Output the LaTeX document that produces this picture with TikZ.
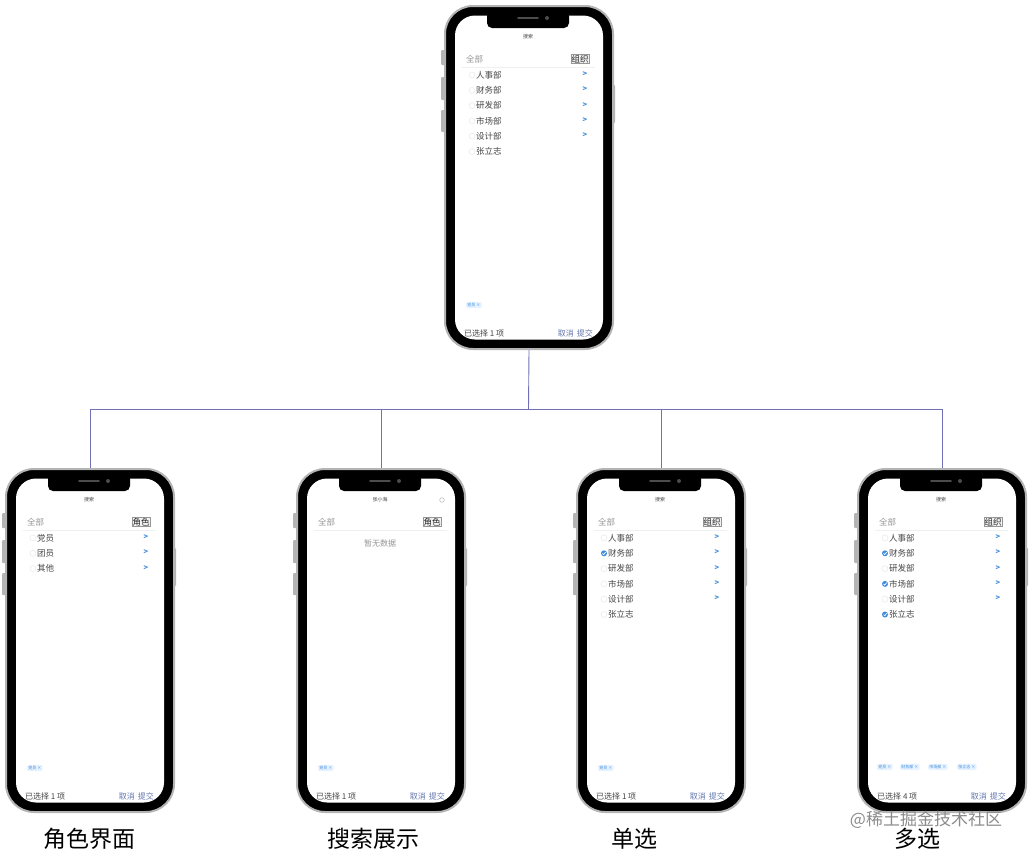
\documentclass[tikz,border=0pt]{standalone}
\usepackage{fontspec}
\setmainfont{Noto Sans CJK SC}
\usetikzlibrary{positioning}
\definecolor{framegray}{RGB}{180,180,180}
\definecolor{linkblue}{RGB}{64,140,220}
\definecolor{conncol}{RGB}{112,112,180}
\definecolor{softgray}{RGB}{150,150,150}
\definecolor{inkgray}{RGB}{70,70,70}
\definecolor{btnblue}{RGB}{100,120,175}
\definecolor{pillfill}{RGB}{230,242,255}

\tikzset{
  phonebody/.style={rectangle, rounded corners=28, minimum width=168, minimum height=343, fill=black, draw=framegray, line width=2, inner sep=0},
  phonescreen/.style={rectangle, rounded corners=20, minimum width=148, minimum height=324, fill=white, inner sep=0},
  sidebtn/.style={fill=framegray, rounded corners=1},
  titletxt/.style={font=\fontsize{5}{6}\selectfont, text=inkgray},
  alltxt/.style={font=\fontsize{8.5}{10}\selectfont, text=softgray, anchor=west, inner sep=0},
  tabbox/.style={draw=softgray, fill=black!5, font=\fontsize{8.5}{10}\selectfont, text=black!85, inner sep=0.6},
  itemtxt/.style={font=\fontsize{8.5}{10}\selectfont, text=inkgray, anchor=west, inner sep=0},
  moretxt/.style={font=\fontsize{7.5}{8}\selectfont\bfseries, text=linkblue, inner sep=0},
  pill/.style={fill=pillfill, rounded corners=1.5, font=\fontsize{4}{5}\selectfont, text=linkblue, inner sep=1.2, anchor=west},
  counttxt/.style={font=\fontsize{8}{10}\selectfont, text=inkgray, anchor=west, inner sep=0},
  actiontxt/.style={font=\fontsize{8}{10}\selectfont, text=btnblue, anchor=east, inner sep=0},
  caption/.style={font=\fontsize{23}{27}\selectfont, text=black},
  conn/.style={draw=conncol, line width=0.9}
}

% phone frame: name, north west corner
\newcommand\drawphone[2]{%
  \begin{scope}[shift={(#2)}]
    \fill[sidebtn] (-3,45) rectangle (2,60);
    \fill[sidebtn] (-3,72) rectangle (2,95);
    \fill[sidebtn] (-3,105) rectangle (2,127);
    \fill[sidebtn] (166,80) rectangle (171,118);
  \end{scope}
  \node[phonebody, anchor=north west] (#1) at (#2) {};
  \node[phonescreen] (#1scr) at (#1.center) {};
  \begin{scope}[shift={(#1.north west)}]
    \fill[black, rounded corners=5] (43,6) -- (43,23) -- (125,23) -- (125,6) -- cycle;
    \draw[black!70, line width=1.6, line cap=round] (74,13) -- (94,13);
    \fill[black!70] (103,13) circle (2);
  \end{scope}
}

% header of screen: title, tab label
\newcommand\screenhead[2]{%
  \node[titletxt] at (84,32) {#1};
  \node[alltxt] at (22,54) {全部};
  \node[tabbox] at (136,54) {#2};
  \draw[black!6] (18,62) -- (151,62);
}

% footer of screen: count
\newcommand\screenfoot[1]{%
  \node[counttxt] at (20,328) {已选择 #1 项};
  \node[actiontxt] at (149,328) {取消\hspace{3pt}提交};
}

% list rows: text/arrow/checked
\newcommand\screenrows[1]{%
  \foreach \txt/\arr/\chk [count=\i from 0] in {#1} {
    \ifnum\chk=1
      \fill[linkblue] (28,{70+15.3*\i}) circle (3);
      \draw[white, line width=0.7] (26.5,{70+15.3*\i}) -- (27.7,{71.2+15.3*\i}) -- (29.7,{68.8+15.3*\i});
    \else
      \draw[black!10, line width=0.4] (28,{70+15.3*\i}) circle (3);
    \fi
    \node[itemtxt] at (32,{70+15.3*\i}) {\txt};
    \ifnum\arr=1
      \node[moretxt] at (141,{69+15.3*\i}) {>};
    \fi
  }
}

\begin{document}
\begin{tikzpicture}[x=1pt, y=-1pt]
  \path[use as bounding box, fill=white] (0,0) rectangle (1030,854);

  % top phone
  \drawphone{top}{444,5}
  \begin{scope}[shift={(top.north west)}]
    \screenhead{搜索}{组织}
    \screenrows{人事部/1/0, 财务部/1/0, 研发部/1/0, 市场部/1/0, 设计部/1/0, 张立志/0/0}
    \node[pill] at (22,300) {党员 ×};
    \screenfoot{1}
  \end{scope}

  % role view
  \drawphone{role}{5,468}
  \begin{scope}[shift={(role.north west)}]
    \screenhead{搜索}{角色}
    \screenrows{党员/1/0, 团员/1/0, 其他/1/0}
    \node[pill] at (22,300) {党员 ×};
    \screenfoot{1}
  \end{scope}

  % search view
  \drawphone{search}{296,468}
  \begin{scope}[shift={(search.north west)}]
    \screenhead{张小海}{角色}
    \draw[black!25, line width=0.6] (146,32) circle (2.3);
    \node[font=\fontsize{8}{10}\selectfont, text=softgray] at (84,75) {暂无数据};
    \node[pill] at (22,300) {党员 ×};
    \screenfoot{1}
  \end{scope}

  % single choice
  \drawphone{single}{576,468}
  \begin{scope}[shift={(single.north west)}]
    \screenhead{搜索}{组织}
    \screenrows{人事部/1/0, 财务部/1/1, 研发部/1/0, 市场部/1/0, 设计部/1/0, 张立志/0/0}
    \node[pill] at (22,300) {党员 ×};
    \screenfoot{1}
  \end{scope}

  % multiple choice
  \drawphone{multi}{857,468}
  \begin{scope}[shift={(multi.north west)}]
    \screenhead{搜索}{组织}
    \screenrows{人事部/1/0, 财务部/1/1, 研发部/1/0, 市场部/1/1, 设计部/1/0, 张立志/0/1}
    \node[pill] at (20,299) {党员 ×};
    \node[pill] at (43,299) {财务部 ×};
    \node[pill] at (71,299) {市场部 ×};
    \node[pill] at (100,299) {张立志 ×};
    \screenfoot{4}
  \end{scope}

  % tree connectors
  \coordinate (fork) at (528.5,409);
  \draw[conn] (top.south) -- (fork);
  \foreach \p in {role, search, single, multi}
    \draw[conn] (fork) -| (\p.north);

  % captions
  \node[caption] (caprole) at (89,839) {角色界面};
  \node[caption] (capsearch) at (373,839) {搜索展示};
  \node[caption] (capsingle) at (634,839) {单选};
  \node[caption] (capmulti) at (917,839) {多选};
  \node[font=\fontsize{17}{20}\selectfont, text=black!45] (mark) at (926,820) {@稀土掘金技术社区};
\end{tikzpicture}
\end{document}
